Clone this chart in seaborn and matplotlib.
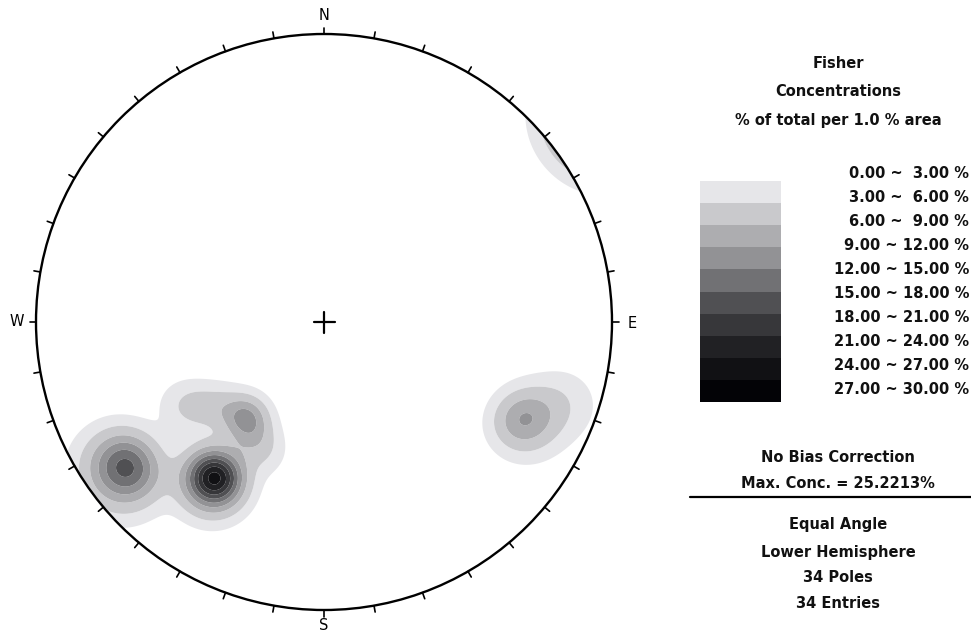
import numpy as np
import matplotlib
matplotlib.use("Agg")
import matplotlib.pyplot as plt
import seaborn as sns
from matplotlib.patches import Circle, Rectangle

# ---------------- data: poles (trend, plunge in degrees) ----------------
dark_trend = [215, 218.2, 211.8, 215, 215, 217.3, 217.3, 212.7, 212.7, 216.2, 213.8, 215.4]
dark_plunge = [23, 23, 23, 26, 20, 25.1, 20.9, 25.1, 20.9, 23.6, 22.4, 21.9]

left_trend = [233.5, 236.5, 230.5, 234.5, 232.5, 236.5, 230.5, 235]
left_plunge = [9, 10, 8, 12, 6, 7, 11, 8]

upper_trend = [219, 220.5, 217.5, 219.5, 211, 206]
upper_plunge = [44, 44.5, 43, 42.5, 40, 37]

band_trend = [239, 235, 230]
band_plunge = [31, 36, 41]

right_trend = [116, 118, 114, 116.5, 109]
right_plunge = [15, 16, 14, 13.5, 8]

max_conc = 25.2213
kappa = 130.0
level_bounds = [1.0, 3, 6, 9, 12, 15, 18, 21, 24, 27, 30]
legend_lo = [0, 3, 6, 9, 12, 15, 18, 21, 24, 27]
legend_hi = [3, 6, 9, 12, 15, 18, 21, 24, 27, 30]
gray_values = [230, 201, 173, 146, 113, 80, 55, 33, 17, 3]

title_lines = ["Fisher", "Concentrations", "% of total per 1.0 % area"]
info_lines_top = ["No Bias Correction", f"Max. Conc. = {max_conc}%"]
info_lines_bottom = ["Equal Angle", "Lower Hemisphere", "34 Poles", "34 Entries"]
compass = ["N", "E", "S", "W"]

# ---------------- setup ----------------
sns.set_theme(style="white")
plt.rcParams['font.family'] = ['DejaVu Sans']

W, H = 971, 639
CX, CY, R = 324.0, 322.0, 288.0

def px(x, y):
    return (x - CX) / R, (CY - y) / R

fig = plt.figure(figsize=(W / 100, H / 100), dpi=100)
ax = fig.add_axes([0, 0, 1, 1])
ax.set_xlim(-CX / R, (W - CX) / R)
ax.set_ylim(-(H - CY) / R, CY / R)
ax.set_aspect('equal')
ax.axis('off')

level_colors = [(v / 255, v / 255, min(v + 3, 255) / 255) for v in gray_values]

# ---------------- Fisher density on lower hemisphere (equal angle) ----------------
trend_all = np.radians(np.array(dark_trend + left_trend + upper_trend + band_trend + right_trend, float))
plunge_all = np.radians(np.array(dark_plunge + left_plunge + upper_plunge + band_plunge + right_plunge, float))
N = len(trend_all)
pv = np.stack([np.cos(plunge_all) * np.sin(trend_all),
               np.cos(plunge_all) * np.cos(trend_all),
               np.sin(plunge_all)], axis=1)

g = np.linspace(-1.03, 1.03, 721)
X, Y = np.meshgrid(g, g)
r = np.hypot(X, Y)
colat = 2 * np.arctan(r)
az = np.arctan2(X, Y)
gv = np.stack([np.sin(colat) * np.sin(az), np.sin(colat) * np.cos(az), np.cos(colat)], axis=-1)
c = gv @ pv.T
dens = (np.exp(kappa * (c - 1)) + np.exp(kappa * (-c - 1))).sum(axis=-1)
dens = dens / dens[r <= 1].max() * max_conc

cs = ax.contourf(X, Y, dens, levels=level_bounds, colors=level_colors, antialiased=True)
clip = Circle((0, 0), 1.0, transform=ax.transData, facecolor='none', edgecolor='none')
ax.add_patch(clip)
cs.set_clip_path(clip)

# ---------------- net ----------------
ax.add_patch(Circle((0, 0), 1.0, fill=False, lw=1.7, edgecolor='black', zorder=5))
tick_len = 6.5 / R
for a in range(0, 360, 10):
    t = np.radians(a)
    s, co = np.sin(t), np.cos(t)
    ax.plot([s, s * (1 + tick_len)], [co, co * (1 + tick_len)], color='black', lw=1.2, zorder=5)

cross = 10.5 / R
ax.plot([-cross, cross], [0, 0], color='black', lw=1.6, zorder=6)
ax.plot([0, 0], [-cross, cross], color='black', lw=1.6, zorder=6)

comp_pos = {"N": (324, 16), "E": (632, 323), "S": (324, 626), "W": (17, 321)}
for k in compass:
    x, y = px(*comp_pos[k])
    ax.text(x, y, k, ha='center', va='center', fontsize=10.5, color='black')

# ---------------- legend ----------------
box_x0, box_x1, box_top, box_h = 700, 781, 181, 22.1
for i, col in enumerate(level_colors):
    x0, y0 = px(box_x0, box_top + box_h * (i + 1))
    ax.add_patch(Rectangle((x0, y0), (box_x1 - box_x0) / R, box_h / R,
                           facecolor=col, edgecolor='none', zorder=4))
for i, (lo, hi) in enumerate(zip(legend_lo, legend_hi)):
    x, y = px(969, 174 + 24.0 * i)
    ax.text(x, y, f"{lo:.2f} ~ {hi:5.2f} %", ha='right', va='center',
            fontsize=10.5, fontweight='bold', color='#111111')

tx = 838
txt_kw = dict(ha='center', va='center', fontsize=10.5, fontweight='bold', color='#111111')
for line, yy in zip(title_lines, [64, 92, 120]):
    x, y = px(tx, yy)
    ax.text(x, y, line, **txt_kw)
for line, yy in zip(info_lines_top, [457, 483]):
    x, y = px(tx, yy)
    ax.text(x, y, line, **txt_kw)
lx0, ly = px(690, 497)
lx1, _ = px(971, 497)
ax.plot([lx0, lx1], [ly, ly], color='black', lw=1.6)
for line, yy in zip(info_lines_bottom, [525, 552, 577, 603]):
    x, y = px(tx, yy)
    ax.text(x, y, line, **txt_kw)

fig.savefig("out.png", dpi=100, facecolor='white')
